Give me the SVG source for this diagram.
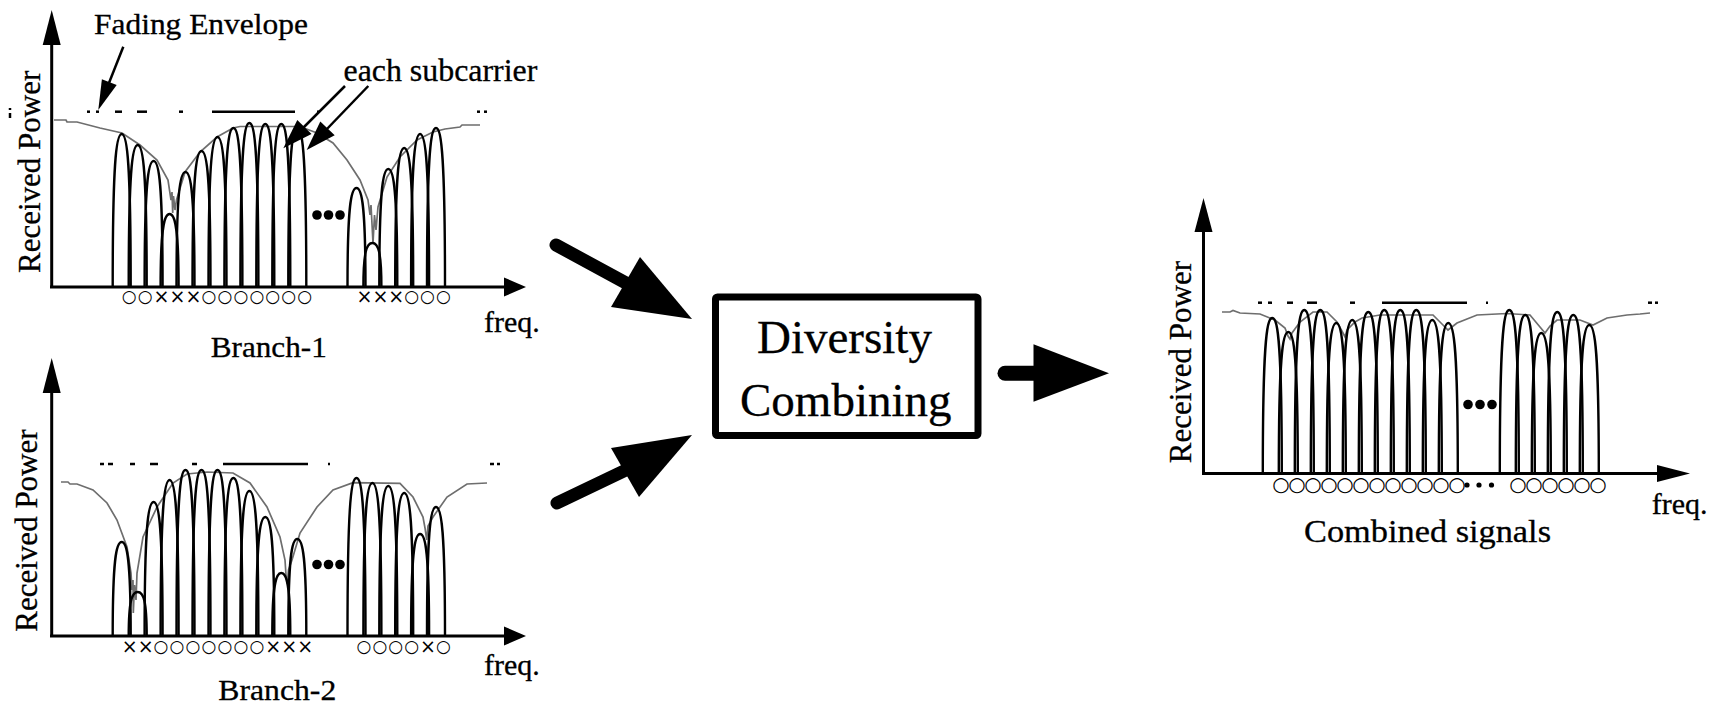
<svg xmlns="http://www.w3.org/2000/svg" width="1721" height="708" viewBox="0 0 1721 708">
<style>
.ax{stroke:#000;stroke-width:3;fill:none}
.ah{fill:#000;stroke:none}
.hp{stroke:#000;stroke-width:2.4;fill:none;stroke-linejoin:round}
.env{stroke:#6e6e6e;stroke-width:1.7;fill:none}
.dash{stroke:#000;stroke-width:2.5}
.t{fill:#000;stroke:#000;stroke-width:0.3}
.mk{font-family:'DejaVu Sans',sans-serif;font-size:17px;fill:#000;dominant-baseline:central}
.mx{font-size:19px;dominant-baseline:central}
.mc{font-size:20px;dominant-baseline:central}
.dot{fill:#000}
.fat{stroke:#000;stroke-linecap:round;fill:none}
.thin{stroke:#000;stroke-width:2.5;fill:none}
</style>
<rect width="1721" height="708" fill="#fff"/>

<g id="branch1">
  <path class="env" d="M54,120 L66,120 L67,122 L77,122 L100,128 L122,133 L140,145 L157,160 L168,180 L171,200 L172,192 L172.7,213 L173.5,196 L175,210 L176.5,200 L185,172 L200,152 L217,137 L233,128 L240,126.5 L300,126.5 L317,133 L333,143 L347,160 L360,180 L368,200 L370,215 L371,205 L373,243 L374.5,215 L376,230 L378,207 L387,177 L400,157 L417,140 L433,132 L445,129 L460,127 L462,125 L480,125"/>
  <g class="dash">
    <line x1="87" y1="111.7" x2="90" y2="111.7"/><line x1="96" y1="111.7" x2="99" y2="111.7"/>
    <line x1="115" y1="111.7" x2="122" y2="111.7"/><line x1="137" y1="111.7" x2="147" y2="111.7"/>
    <line x1="179" y1="111.7" x2="183" y2="111.7"/><line x1="212" y1="111.7" x2="295" y2="111.7"/>
    <line x1="317" y1="111.7" x2="320" y2="111.7"/><line x1="477" y1="111.7" x2="480" y2="111.7"/>
    <line x1="484" y1="111.7" x2="487" y2="111.7"/>
    <line x1="10" y1="113" x2="10" y2="118"/><line x1="10" y1="108" x2="10" y2="110"/>
  </g>
  <g class="hp">
    <path d="M112.7,287 C112.7,164.6 115.9,134 121.7,134 S130.7,164.6 130.7,287"/>
    <path d="M128.7,287 C128.7,173.4 131.9,145 137.7,145 S146.7,173.4 146.7,287"/>
    <path d="M144.6,287 C144.6,186.2 147.8,161 153.6,161 S162.6,186.2 162.6,287"/>
    <path d="M160.6,287 C160.6,228.6 163.8,214 169.6,214 S178.6,228.6 178.6,287"/>
    <path d="M176.5,287 C176.5,195 179.7,172 185.5,172 S194.5,195 194.5,287"/>
    <path d="M192.5,287 C192.5,178.2 195.7,151 201.5,151 S210.5,178.2 210.5,287"/>
    <path d="M208.5,287 C208.5,167 211.7,137 217.5,137 S226.5,167 226.5,287"/>
    <path d="M224.4,287 C224.4,159.8 227.6,128 233.4,128 S242.4,159.8 242.4,287"/>
    <path d="M240.4,287 C240.4,155.8 243.6,123 249.4,123 S258.4,155.8 258.4,287"/>
    <path d="M256.3,287 C256.3,156.6 259.5,124 265.3,124 S274.3,156.6 274.3,287"/>
    <path d="M272.3,287 C272.3,156.6 275.5,124 281.3,124 S290.3,156.6 290.3,287"/>
    <path d="M288.3,287 C288.3,159.8 291.5,128 297.3,128 S306.3,159.8 306.3,287"/>
    <path d="M347.5,287 C347.5,207.8 350.7,188 356.5,188 S365.5,207.8 365.5,287"/>
    <path d="M363.4,287 C363.4,251.8 366.6,243 372.4,243 S381.4,251.8 381.4,287"/>
    <path d="M379.3,287 C379.3,192.6 382.5,169 388.3,169 S397.3,192.6 397.3,287"/>
    <path d="M395.2,287 C395.2,175.8 398.4,148 404.2,148 S413.2,175.8 413.2,287"/>
    <path d="M411.1,287 C411.1,164.6 414.3,134 420.1,134 S429.1,164.6 429.1,287"/>
    <path d="M427,287 C427,159.8 430.2,128 436,128 S445,159.8 445,287"/>
  </g>
  <line class="ax" x1="51.7" y1="44" x2="51.7" y2="287"/>
  <polygon class="ah" points="51.7,10 60.7,45 42.7,45"/>
  <line class="ax" x1="50" y1="287" x2="505" y2="287"/>
  <polygon class="ah" points="526,287 504,277.5 504,296.5"/>
  <circle class="dot" cx="317" cy="215" r="4.8"/><circle class="dot" cx="328.5" cy="215" r="4.8"/><circle class="dot" cx="340" cy="215" r="4.8"/>
  <text class="mk" y="296"><tspan x="121.7 137.7">○○</tspan><tspan class="mx" x="153.6 169.6 185.5">×××</tspan><tspan x="201.5 217.5 233.4 249.4 265.3 281.3 297.3">○○○○○○○</tspan><tspan class="mx" x="356.5 372.4 388.3">×××</tspan><tspan x="404.2 420.1 436">○○○</tspan></text>
  <text class="t" font-family="Liberation Serif" font-size="31" transform="translate(39.5,273) rotate(-90)">Received Power</text>
  <text class="t" font-family="Liberation Serif" font-size="30" x="484" y="332">freq.</text>
  <text class="t" font-family="Liberation Serif" font-size="30" transform="translate(210.7,357) scale(1.04,1)">Branch-1</text>
</g>

<g id="annotations">
  <text class="t" font-family="Liberation Serif" font-size="30" transform="translate(94,34) scale(1.048,1)">Fading Envelope</text>
  <line class="thin" x1="123.3" y1="46.7" x2="107" y2="88"/>
  <polygon class="ah" points="98.3,110 101.9,79.2 116.7,85"/>
  <text class="t" font-family="Liberation Serif" font-size="31" transform="translate(343.5,81) scale(1.029,1)">each subcarrier</text>
  <line class="thin" x1="345" y1="86" x2="302" y2="129"/>
  <polygon class="ah" points="283.3,148.3 297.3,120 311.5,134"/>
  <line class="thin" x1="368.3" y1="86" x2="326" y2="130"/>
  <polygon class="ah" points="306.7,150 320.3,121.5 334.7,135.3"/>
</g>

<g id="branch2">
  <path class="env" d="M61,482 L68,482 L70,484 L77,484 L93,490 L107,503 L117,520 L127,547 L131,573 L132,590 L133,580 L133.3,613 L134.5,585 L136,600 L137,573 L143,537 L157,507 L173,483 L187,474 L207,472 L233,473 L250,483 L267,507 L280,537 L285,560 L286,575 L287.3,584 L288.5,570 L292,560 L300,533 L317,507 L333,490 L353,482.7 L400,483.3 L413,497 L423,517 L425,528 L426.7,540 L428,526 L433,517 L447,497 L467,484 L487,483"/>
  <g class="dash">
    <line x1="100" y1="464" x2="104" y2="464"/><line x1="108" y1="464" x2="113" y2="464"/>
    <line x1="130" y1="464" x2="135" y2="464"/><line x1="150" y1="464" x2="158" y2="464"/>
    <line x1="192" y1="464" x2="197" y2="464"/><line x1="223" y1="464" x2="308" y2="464"/>
    <line x1="328" y1="464" x2="330" y2="464"/><line x1="490" y1="464" x2="494" y2="464"/>
    <line x1="497" y1="464" x2="500" y2="464"/>
  </g>
  <g class="hp">
    <path d="M112.7,636 C112.7,560.8 115.9,542 121.7,542 S130.7,560.8 130.7,636"/>
    <path d="M128.7,636 C128.7,600.8 131.9,592 137.7,592 S146.7,600.8 146.7,636"/>
    <path d="M144.6,636 C144.6,528.8 147.8,502 153.6,502 S162.6,528.8 162.6,636"/>
    <path d="M160.6,636 C160.6,511.2 163.8,480 169.6,480 S178.6,511.2 178.6,636"/>
    <path d="M176.5,636 C176.5,503.2 179.7,470 185.5,470 S194.5,503.2 194.5,636"/>
    <path d="M192.5,636 C192.5,503.2 195.7,470 201.5,470 S210.5,503.2 210.5,636"/>
    <path d="M208.5,636 C208.5,503.2 211.7,470 217.5,470 S226.5,503.2 226.5,636"/>
    <path d="M224.4,636 C224.4,509.6 227.6,478 233.4,478 S242.4,509.6 242.4,636"/>
    <path d="M240.4,636 C240.4,520 243.6,491 249.4,491 S258.4,520 258.4,636"/>
    <path d="M256.3,636 C256.3,540.8 259.5,517 265.3,517 S274.3,540.8 274.3,636"/>
    <path d="M272.3,636 C272.3,585.6 275.5,573 281.3,573 S290.3,585.6 290.3,636"/>
    <path d="M288.3,636 C288.3,558.4 291.5,539 297.3,539 S306.3,558.4 306.3,636"/>
    <path d="M347.5,636 C347.5,509.6 350.7,478 356.5,478 S365.5,509.6 365.5,636"/>
    <path d="M363.4,636 C363.4,513.6 366.6,483 372.4,483 S381.4,513.6 381.4,636"/>
    <path d="M379.3,636 C379.3,516 382.5,486 388.3,486 S397.3,516 397.3,636"/>
    <path d="M395.2,636 C395.2,521.6 398.4,493 404.2,493 S413.2,521.6 413.2,636"/>
    <path d="M411.1,636 C411.1,554.4 414.3,534 420.1,534 S429.1,554.4 429.1,636"/>
    <path d="M427,636 C427,532.8 430.2,507 436,507 S445,532.8 445,636"/>
  </g>
  <line class="ax" x1="51.7" y1="392" x2="51.7" y2="636"/>
  <polygon class="ah" points="51.7,358 60.7,393 42.7,393"/>
  <line class="ax" x1="50" y1="636" x2="505" y2="636"/>
  <polygon class="ah" points="526,636 504,626.5 504,645.5"/>
  <circle class="dot" cx="317" cy="564.5" r="4.8"/><circle class="dot" cx="328.5" cy="564.5" r="4.8"/><circle class="dot" cx="340" cy="564.5" r="4.8"/>
  <text class="mk" y="646"><tspan class="mx" x="121.7 137.7">××</tspan><tspan x="153.6 169.6 185.5 201.5 217.5 233.4 249.4">○○○○○○○</tspan><tspan class="mx" x="265.3 281.3 297.3">×××</tspan><tspan x="356.5 372.4 388.3 404.2">○○○○</tspan><tspan class="mx" x="420.1">×</tspan><tspan x="436">○</tspan></text>
  <text class="t" font-family="Liberation Serif" font-size="31" transform="translate(37.3,631.7) rotate(-90)">Received Power</text>
  <text class="t" font-family="Liberation Serif" font-size="30" x="484" y="675">freq.</text>
  <text class="t" font-family="Liberation Serif" font-size="30" transform="translate(218.3,700) scale(1.057,1)">Branch-2</text>
</g>

<g id="diversity-combining">
  <rect x="715.5" y="297" width="262.5" height="138.5" rx="2" fill="#fff" stroke="#000" stroke-width="7"/>
  <text class="t" font-family="Liberation Serif" font-size="47" x="757" y="353">Diversity</text>
  <text class="t" font-family="Liberation Serif" font-size="47" x="740" y="416">Combining</text>
</g>

<g id="combined">
  <path class="env" d="M1222,312 L1230,312 L1233,310.5 L1240,313 L1260,314 L1275,320 L1285,328 L1288,336 L1290,339 L1292,333 L1300,322 L1313,312 L1327,312 L1337,322 L1343,333 L1345,337 L1347,330 L1355,322 L1362,318 L1380,315 L1433,315 L1443,325 L1448,330 L1457,323 L1477,315 L1507,313.5 L1530,315 L1540,327 L1545,333 L1550,326 L1557,320 L1580,320 L1593,325 L1607,318 L1627,315 L1640,314 L1650,313"/>
  <g class="dash">
    <line x1="1258" y1="302.7" x2="1262" y2="302.7"/><line x1="1268" y1="302.7" x2="1272" y2="302.7"/>
    <line x1="1287" y1="302.7" x2="1293" y2="302.7"/><line x1="1307" y1="302.7" x2="1317" y2="302.7"/>
    <line x1="1350" y1="302.7" x2="1355" y2="302.7"/><line x1="1382" y1="302.7" x2="1467" y2="302.7"/>
    <line x1="1486" y1="302.7" x2="1488" y2="302.7"/><line x1="1648" y1="302.7" x2="1652" y2="302.7"/>
    <line x1="1655" y1="302.7" x2="1658" y2="302.7"/>
  </g>
  <g class="hp">
    <path d="M1262.8,473.5 C1262.8,349.1 1266.1,318 1272.3,318 S1281.8,349.1 1281.8,473.5"/>
    <path d="M1278.8,473.5 C1278.8,360.3 1282.1,332 1288.3,332 S1297.8,360.3 1297.8,473.5"/>
    <path d="M1294.8,473.5 C1294.8,342.7 1298.1,310 1304.3,310 S1313.8,342.7 1313.8,473.5"/>
    <path d="M1310.8,473.5 C1310.8,342.7 1314.1,310 1320.3,310 S1329.8,342.7 1329.8,473.5"/>
    <path d="M1326.8,473.5 C1326.8,353.1 1330.1,323 1336.3,323 S1345.8,353.1 1345.8,473.5"/>
    <path d="M1342.8,473.5 C1342.8,350.7 1346.1,320 1352.3,320 S1361.8,350.7 1361.8,473.5"/>
    <path d="M1358.8,473.5 C1358.8,344.3 1362.1,312 1368.3,312 S1377.8,344.3 1377.8,473.5"/>
    <path d="M1374.8,473.5 C1374.8,342.7 1378.1,310 1384.3,310 S1393.8,342.7 1393.8,473.5"/>
    <path d="M1390.8,473.5 C1390.8,342.7 1394.1,310 1400.3,310 S1409.8,342.7 1409.8,473.5"/>
    <path d="M1406.8,473.5 C1406.8,342.7 1410.1,310 1416.3,310 S1425.8,342.7 1425.8,473.5"/>
    <path d="M1422.8,473.5 C1422.8,350.7 1426.1,320 1432.3,320 S1441.8,350.7 1441.8,473.5"/>
    <path d="M1438.8,473.5 C1438.8,353.1 1442.1,323 1448.3,323 S1457.8,353.1 1457.8,473.5"/>
    <path d="M1499.8,473.5 C1499.8,342.7 1503.1,310 1509.3,310 S1518.8,342.7 1518.8,473.5"/>
    <path d="M1515.8,473.5 C1515.8,346.7 1519.1,315 1525.3,315 S1534.8,346.7 1534.8,473.5"/>
    <path d="M1531.8,473.5 C1531.8,361.1 1535.1,333 1541.3,333 S1550.8,361.1 1550.8,473.5"/>
    <path d="M1547.8,473.5 C1547.8,344.3 1551.1,312 1557.3,312 S1566.8,344.3 1566.8,473.5"/>
    <path d="M1563.8,473.5 C1563.8,346.7 1567.1,315 1573.3,315 S1582.8,346.7 1582.8,473.5"/>
    <path d="M1579.8,473.5 C1579.8,354.7 1583.1,325 1589.3,325 S1598.8,354.7 1598.8,473.5"/>
  </g>
  <line class="ax" x1="1203.5" y1="231" x2="1203.5" y2="473.5"/>
  <polygon class="ah" points="1203.5,198 1212.5,232 1194.5,232"/>
  <line class="ax" x1="1202" y1="473.5" x2="1658" y2="473.5"/>
  <polygon class="ah" points="1690,473.5 1657,465 1657,482"/>
  <circle class="dot" cx="1468" cy="404.5" r="4.8"/><circle class="dot" cx="1480" cy="404.5" r="4.8"/><circle class="dot" cx="1492" cy="404.5" r="4.8"/>
  <circle class="dot" cx="1467" cy="485" r="2.6"/><circle class="dot" cx="1479" cy="485" r="2.6"/><circle class="dot" cx="1491.5" cy="485" r="2.6"/>
  <text class="mk" y="484"><tspan class="mc" x="1272.3 1288.3 1304.3 1320.3 1336.3 1352.3 1368.3 1384.3 1400.3 1416.3 1432.3 1448.3">○○○○○○○○○○○○</tspan><tspan class="mc" x="1509.3 1525.3 1541.3 1557.3 1573.3 1589.3">○○○○○○</tspan></text>
  <text class="t" font-family="Liberation Serif" font-size="31" transform="translate(1190.5,463.3) rotate(-90)">Received Power</text>
  <text class="t" font-family="Liberation Serif" font-size="30" x="1651.7" y="514">freq.</text>
  <text class="t" font-family="Liberation Serif" font-size="31" transform="translate(1304,542) scale(1.108,1)">Combined signals</text>
</g>

<g id="connectors">
  <line class="fat" x1="556" y1="245" x2="626" y2="283" stroke-width="13"/>
  <polygon class="ah" points="640,257 692,319 611,307"/>
  <line class="fat" x1="557" y1="503" x2="626" y2="470" stroke-width="13"/>
  <polygon class="ah" points="611,448 692,435 639,497"/>
  <line class="fat" x1="1005" y1="373.3" x2="1036" y2="373.3" stroke-width="15"/>
  <polygon class="ah" points="1033.5,344.3 1109,373.3 1033.5,401.7"/>
</g>
</svg>
